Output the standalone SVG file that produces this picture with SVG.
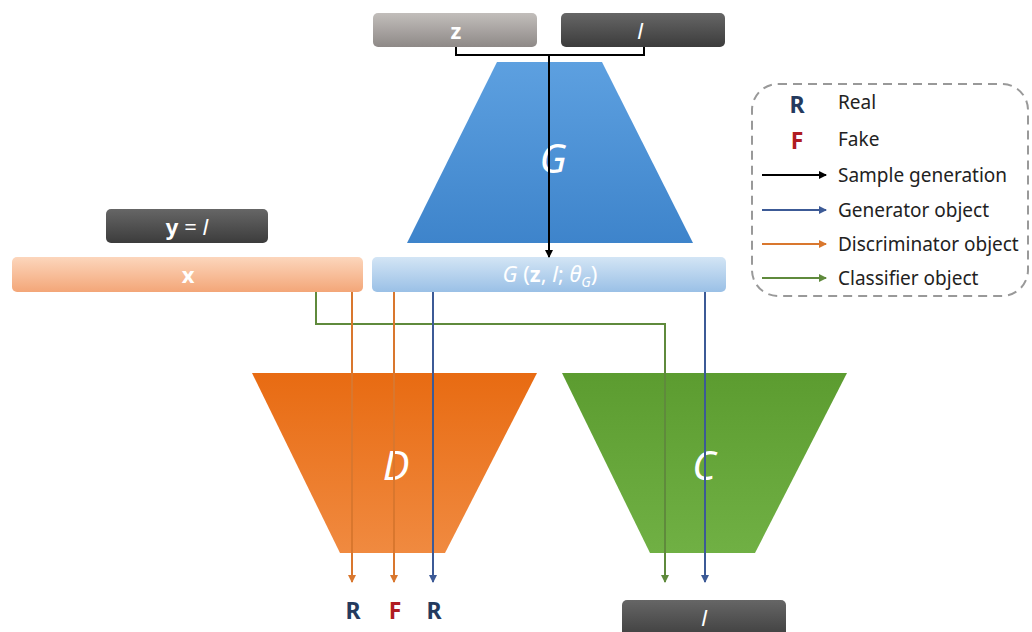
<svg xmlns="http://www.w3.org/2000/svg" width="1032" height="632" viewBox="0 0 1032 632">
<defs>
<linearGradient id="gBlue" x1="0" y1="0" x2="0" y2="1"><stop offset="0" stop-color="#5da0e0"/><stop offset="1" stop-color="#3e84cb"/></linearGradient>
<linearGradient id="gOrange" x1="0" y1="0" x2="0" y2="1"><stop offset="0" stop-color="#e86b12"/><stop offset="1" stop-color="#f08a40"/></linearGradient>
<linearGradient id="gGreen" x1="0" y1="0" x2="0" y2="1"><stop offset="0" stop-color="#5c9c30"/><stop offset="1" stop-color="#70b044"/></linearGradient>
<linearGradient id="gDark" x1="0" y1="0" x2="0" y2="1"><stop offset="0" stop-color="#666"/><stop offset="1" stop-color="#3c3c3c"/></linearGradient>
<linearGradient id="gGray" x1="0" y1="0" x2="0" y2="1"><stop offset="0" stop-color="#c2bebb"/><stop offset="1" stop-color="#8e8987"/></linearGradient>
<linearGradient id="gX" x1="0" y1="0" x2="0" y2="1"><stop offset="0" stop-color="#fcd6bc"/><stop offset="1" stop-color="#f3a678"/></linearGradient>
<linearGradient id="gGbox" x1="0" y1="0" x2="0" y2="1"><stop offset="0" stop-color="#d3e5f5"/><stop offset="1" stop-color="#9ac0e6"/></linearGradient>
<marker id="aK" markerWidth="8" markerHeight="8" refX="7" refY="4" orient="auto" markerUnits="userSpaceOnUse"><path d="M0,0 L8,4 L0,8 Z" fill="#000"/></marker>
<marker id="aB" markerWidth="8" markerHeight="8" refX="7" refY="4" orient="auto" markerUnits="userSpaceOnUse"><path d="M0,0 L8,4 L0,8 Z" fill="#3c5a96"/></marker>
<marker id="aO" markerWidth="8" markerHeight="8" refX="7" refY="4" orient="auto" markerUnits="userSpaceOnUse"><path d="M0,0 L8,4 L0,8 Z" fill="#d9772e"/></marker>
<marker id="aG" markerWidth="8" markerHeight="8" refX="7" refY="4" orient="auto" markerUnits="userSpaceOnUse"><path d="M0,0 L8,4 L0,8 Z" fill="#5f8a3c"/></marker>
</defs>
<style>
text{font-family:"Noto Sans","Open Sans","Liberation Sans",sans-serif}
.lbl{fill:#fff;font-size:22px;text-anchor:middle}
.big{fill:#fff;font-size:40px;font-style:italic;text-anchor:middle}
.leg{fill:#222;font-size:19px}
.k{stroke:#000;stroke-width:2;fill:none}
.b{stroke:#3c5a96;stroke-width:2;fill:none}
.o{stroke:#d9772e;stroke-width:2;fill:none}
.g{stroke:#5f8a3c;stroke-width:2;fill:none}
</style>
<g id="node-z"><rect x="373" y="13" width="164" height="34" rx="5" fill="url(#gGray)"/><text class="lbl" x="456" y="39" font-weight="bold">z</text></g>
<g id="node-l-top"><rect x="561" y="13" width="164" height="34" rx="5" fill="url(#gDark)"/><text class="lbl" x="640" y="39" font-style="italic">l</text></g>
<g id="node-G"><polygon points="497,62 602,62 693,243 407,243" fill="url(#gBlue)"/><text class="big" x="553" y="173">G</text></g>
<g id="node-y"><rect x="106" y="209" width="162" height="34" rx="5" fill="url(#gDark)"/><text class="lbl" x="187" y="235" xml:space="preserve"><tspan font-weight="bold">y</tspan> = <tspan font-style="italic">l</tspan></text></g>
<g id="node-x"><rect x="12" y="257" width="351" height="35" rx="5" fill="url(#gX)"/><text class="lbl" x="188" y="283" font-weight="bold" fill="#fdf2ea">x</text></g>
<g id="node-Gout"><rect x="372" y="257" width="354" height="35" rx="5" fill="url(#gGbox)"/><text class="lbl" x="550" y="282" fill="#eef5fc"><tspan font-style="italic">G</tspan> (<tspan font-weight="bold">z</tspan>, <tspan font-style="italic">l</tspan>; <tspan font-style="italic">θ</tspan><tspan font-style="italic" font-size="14" dy="5">G</tspan><tspan dy="-5">)</tspan></text></g>
<g id="node-D"><polygon points="252,373 537,373 445,553 340,553" fill="url(#gOrange)"/><text class="big" x="396" y="480">D</text></g>
<g id="node-C"><polygon points="562,373 847,373 755,553 650,553" fill="url(#gGreen)"/><text class="big" x="704" y="480">C</text></g>
<g id="node-l-bottom"><rect x="622" y="600" width="164" height="40" rx="5" fill="url(#gDark)"/><text class="lbl" x="704" y="626" font-style="italic">l</text></g>
<g id="outputs" font-size="23" font-weight="bold" text-anchor="middle">
<text x="353" y="619" fill="#243a5e">R</text>
<text x="395" y="619" fill="#b01c22">F</text>
<text x="434" y="619" fill="#243a5e">R</text>
</g>
<g id="connectors">
<path class="k" d="M456,47 V55 H644 V47"/>
<path class="k" d="M549,55 V257" marker-end="url(#aK)"/>
<path class="g" d="M316,292 V324 H665 V582" marker-end="url(#aG)"/>
<path class="o" d="M352,292 V582" marker-end="url(#aO)"/>
<path class="o" d="M394,292 V582" marker-end="url(#aO)"/>
<path class="b" d="M433,292 V582" marker-end="url(#aB)"/>
<path class="b" d="M705,292 V582" marker-end="url(#aB)"/>
</g>
<g id="legend">
<rect x="752" y="84" width="276" height="212" rx="26" fill="none" stroke="#999" stroke-width="2" stroke-dasharray="9,6"/>
<text x="797" y="113" font-size="23" font-weight="bold" fill="#243a5e" text-anchor="middle">R</text>
<text x="797" y="149" font-size="23" font-weight="bold" fill="#b01c22" text-anchor="middle">F</text>
<text class="leg" x="838" y="109">Real</text>
<text class="leg" x="838" y="146">Fake</text>
<text class="leg" x="838" y="182">Sample generation</text>
<text class="leg" x="838" y="217">Generator object</text>
<text class="leg" x="838" y="251">Discriminator object</text>
<text class="leg" x="838" y="285">Classifier object</text>
<path class="k" d="M762,175 H826" marker-end="url(#aK)"/>
<path class="b" d="M762,210 H826" marker-end="url(#aB)"/>
<path class="o" d="M762,244 H826" marker-end="url(#aO)"/>
<path class="g" d="M762,278 H826" marker-end="url(#aG)"/>
</g>
</svg>
